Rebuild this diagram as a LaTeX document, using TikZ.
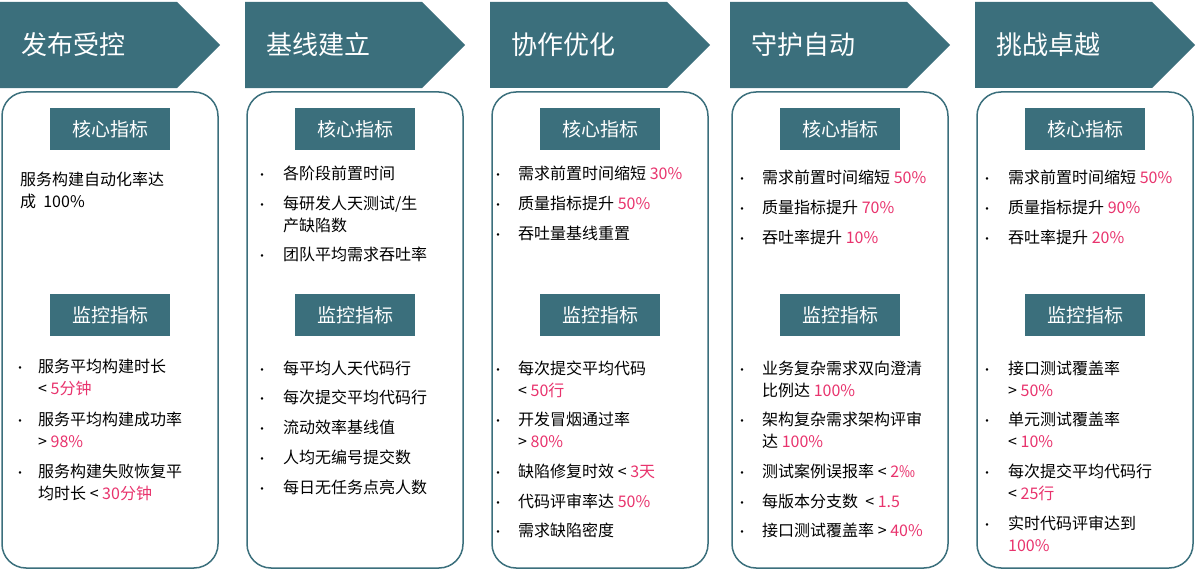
\documentclass[tikz,border=0pt]{standalone}
\usepackage{fontspec}
\setmainfont{Noto Sans CJK SC}
\usetikzlibrary{shapes.arrows}
\definecolor{teal1}{HTML}{3B6F7C}
\definecolor{hot}{HTML}{E8336D}
\newcommand{\hl}[1]{\textcolor{hot}{#1}}
\tikzset{
  stage/.style={single arrow, fill=teal1, draw=none, minimum height=220pt, minimum width=86pt,
    single arrow head extend=0pt, single arrow tip angle=90, inner sep=0pt, text=white,
    font=\fontsize{26}{28}\selectfont, anchor=west},
  panel/.style={draw=teal1, line width=1.5pt, rounded corners=24pt},
  tag/.style={fill=teal1, text=white, minimum width=120pt, minimum height=42pt, font=\fontsize{19}{21}\selectfont},
  item/.style={anchor=north west, inner sep=0pt, align=left, font=\fontsize{16}{22}\selectfont},
  dot/.style={anchor=center, inner sep=0pt, font=\fontsize{12}{12}\selectfont}
}
\begin{document}
\begin{tikzpicture}[x=1pt,y=-1pt]
  \useasboundingbox (0,0) rectangle (1200,572);
  % stages
  \foreach \n/\x/\t in {s1/0/发布受控, s2/245/基线建立, s3/490/协作优化, s4/730/守护自动, s5/975/挑战卓越} {
    \node[stage] (\n) at (\x,45) {\hspace*{-30pt}\t};
    \draw[panel] (\x+2,92) rectangle (\x+218,568);
    \node[tag] (\n-core) at (\x+110,129) {核心指标};
    \node[tag] (\n-mon) at (\x+110,315) {监控指标};
  }
  % column 1
  \node[item] (c1a) at (20,172) {服务构建自动化率达\\成~~100\%};
  \foreach \y in {370,423,475} \node[dot] at (20,\y) {•};
  \node[item] (m1a) at (38,359) {服务平均构建时长\\< \hl{5分钟}};
  \node[item] (m1b) at (38,412) {服务平均构建成功率\\> \hl{98\%}};
  \node[item] (m1c) at (38,464) {服务构建失败恢复平\\均时长 < \hl{30分钟}};
  % column 2
  \foreach \y in {177,207,258,372,401,431,461,491} \node[dot] at (262,\y) {•};
  \node[item] (c2a) at (283,166) {各阶段前置时间};
  \node[item] (c2b) at (283,196) {每研发人天测试/生\\产缺陷数};
  \node[item] (c2c) at (283,247) {团队平均需求吞吐率};
  \node[item] (m2a) at (283,361) {每平均人天代码行};
  \node[item] (m2b) at (283,390) {每次提交平均代码行};
  \node[item] (m2c) at (283,420) {流动效率基线值};
  \node[item] (m2d) at (283,450) {人均无编号提交数};
  \node[item] (m2e) at (283,480) {每日无任务点亮人数};
  % column 3
  \foreach \y in {177,207,237,372,423,475,505,534} \node[dot] at (498,\y) {•};
  \node[item] (c3a) at (518,166) {需求前置时间缩短 \hl{30\%}};
  \node[item] (c3b) at (518,196) {质量指标提升 \hl{50\%}};
  \node[item] (c3c) at (518,226) {吞吐量基线重置};
  \node[item] (m3a) at (518,361) {每次提交平均代码\\< \hl{50行}};
  \node[item] (m3b) at (518,412) {开发冒烟通过率\\> \hl{80\%}};
  \node[item] (m3c) at (518,464) {缺陷修复时效 < \hl{3天}};
  \node[item] (m3d) at (518,494) {代码评审率达 \hl{50\%}};
  \node[item] (m3e) at (518,523) {需求缺陷密度};
  % column 4
  \foreach \y in {181,211,241,372,423,475,505,534} \node[dot] at (742,\y) {•};
  \node[item] (c4a) at (762,170) {需求前置时间缩短 \hl{50\%}};
  \node[item] (c4b) at (762,200) {质量指标提升 \hl{70\%}};
  \node[item] (c4c) at (762,230) {吞吐率提升 \hl{10\%}};
  \node[item] (m4a) at (762,361) {业务复杂需求双向澄清\\比例达 \hl{100\%}};
  \node[item] (m4b) at (762,412) {架构复杂需求架构评审\\达 \hl{100\%}};
  \node[item] (m4c) at (762,464) {测试案例误报率 < \hl{2‰}};
  \node[item] (m4d) at (762,494) {每版本分支数~~< \hl{1.5}};
  \node[item] (m4e) at (762,523) {接口测试覆盖率 > \hl{40\%}};
  % column 5
  \foreach \y in {181,211,241,372,423,475,527} \node[dot] at (987,\y) {•};
  \node[item] (c5a) at (1008,170) {需求前置时间缩短 \hl{50\%}};
  \node[item] (c5b) at (1008,200) {质量指标提升 \hl{90\%}};
  \node[item] (c5c) at (1008,230) {吞吐率提升 \hl{20\%}};
  \node[item] (m5a) at (1008,361) {接口测试覆盖率\\> \hl{50\%}};
  \node[item] (m5b) at (1008,412) {单元测试覆盖率\\< \hl{10\%}};
  \node[item] (m5c) at (1008,464) {每次提交平均代码行\\< \hl{25行}};
  \node[item] (m5d) at (1008,516) {实时代码评审达到\\\hl{100\%}};
\end{tikzpicture}
\end{document}
